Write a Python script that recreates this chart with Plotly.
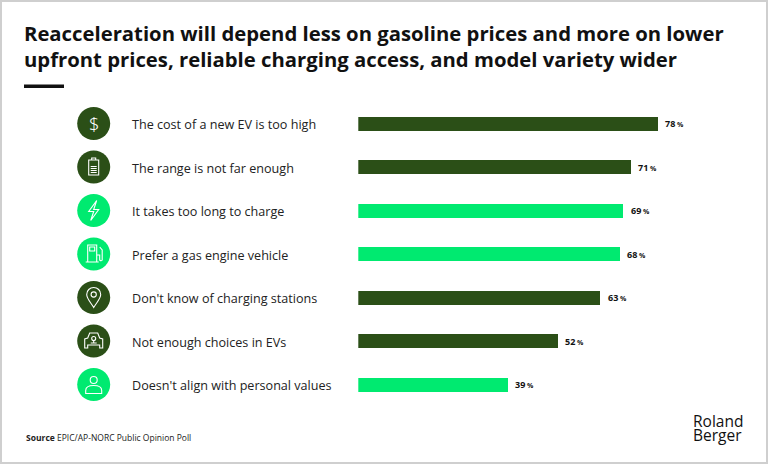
import plotly.graph_objects as go

# ---------------- data ----------------
categories = [
    "The cost of a new EV is too high",
    "The range is not far enough",
    "It takes too long to charge",
    "Prefer a gas engine vehicle",
    "Don't know of charging stations",
    "Not enough choices in EVs",
    "Doesn't align with personal values",
]
values = [78, 71, 69, 68, 63, 52, 39]
groups = ["dark", "dark", "bright", "bright", "dark", "dark", "bright"]
icons = ["dollar", "battery", "bolt", "fuel", "pin", "car", "person"]

title_text = ("Reacceleration will depend less on gasoline prices and more on lower<br>"
              "upfront prices, reliable charging access, and model variety wider")
source_label = "Source"
source_text = "EPIC/AP-NORC Public Opinion Poll"
logo_lines = ["Roland", "Berger"]

# ---------------- style ----------------
W, H = 768, 464
DARK = "#2b4f17"
BRIGHT = "#00ea70"
COLORS = {"dark": DARK, "bright": BRIGHT}
FONT = "Open Sans"


def px_x(p):
    return p / W


def px_y(p):
    return 1 - p / H


def circ(cx, cy, r):
    k = 0.5523 * r
    return (f"M {cx - r},{cy} C {cx - r},{cy + k} {cx - k},{cy + r} {cx},{cy + r} "
            f"C {cx + k},{cy + r} {cx + r},{cy + k} {cx + r},{cy} "
            f"C {cx + r},{cy - k} {cx + k},{cy - r} {cx},{cy - r} "
            f"C {cx - k},{cy - r} {cx - r},{cy - k} {cx - r},{cy} Z")


ICON_PATHS = {
    "battery": ("M -5,-8 L 5,-8 L 5,7 L -5,7 Z M -2,7 L -2,9 L 2,9 L 2,7 "
                "M -3,-5.5 L 3,-5.5 M -3,-3.5 L 3,-3.5 M -3,-1.5 L 3,-1.5 M -3,0.5 L 3,0.5"),
    "bolt": "M 3,10 L -5,-1 L 0,-1 L -3,-10 L 5,1 L 0,1 Z",
    "fuel": ("M -6,-8 L 3,-8 L 3,9 L -6,9 Z M -4,3 L 1,3 L 1,7 L -4,7 Z M -8,-8 L 5,-8 "
             "M 3,-1 L 6,-1 L 6,-6 Q 7.5,-7.5 8.5,-6 L 8.5,4 L 6,7"),
    "pin": ("M 0,-10 C -3,-5 -7,-1 -7,3 C -7,7 -3.9,10 0,10 C 3.9,10 7,7 7,3 C 7,-1 3,-5 0,-10 Z "
            + circ(0, 3, 2.6)),
    "car": ("M -9,-7 L -9,2 L -6,3 L -4,8 L 4,8 L 6,3 L 9,2 L 9,-7 L 6,-7 L 6,-4 L -6,-4 L -6,-7 Z "
            + circ(0, 2.5, 2) + " M 0,0.5 L 0,-2 M -3,-2 L 3,-2"),
    "person": (circ(0, 4.5, 3.5) +
               " M -8,-9 L -8,-6 C -8,-2 -4,-1 0,-1 C 4,-1 8,-2 8,-6 L 8,-9 Z"),
}

ypos = list(range(len(categories)))
bar_colors = [COLORS[g] for g in groups]

fig = go.Figure()
fig.add_trace(go.Bar(
    x=values, y=ypos, orientation="h",
    marker=dict(color=bar_colors, line=dict(width=0)),
    width=0.32, hoverinfo="skip",
))

annotations = []
shapes = []

ICON_X = px_x(93.7)
for i, (cat, v, g, ic) in enumerate(zip(categories, values, groups, icons)):
    # value labels
    annotations.append(dict(
        x=v, y=i, xref="x", yref="y", xanchor="left", yanchor="middle", xshift=5,
        text=f"<b>{v}<span style='font-size:7px'> %</span></b>",
        showarrow=False, font=dict(family=FONT, size=9, color="#111111"),
    ))
    # category labels
    annotations.append(dict(
        x=px_x(130), y=i, xref="paper", yref="y", xanchor="left", yanchor="middle",
        yshift=-1, text=cat, showarrow=False,
        font=dict(family=FONT, size=12.6, color="#222222"),
    ))
    # icon circle
    shapes.append(dict(
        type="circle", xref="paper", yref="y", xsizemode="pixel", ysizemode="pixel",
        xanchor=ICON_X, yanchor=i, x0=-16.5, x1=16.5, y0=-16.5, y1=16.5,
        fillcolor=COLORS[g], line=dict(width=0), layer="above",
    ))
    if ic == "dollar":
        annotations.append(dict(
            x=ICON_X, y=i, xref="paper", yref="y", xanchor="center", yanchor="middle",
            text="$", showarrow=False,
            font=dict(family="Noto Sans", size=18, color="white", weight=300),
        ))
    else:
        shapes.append(dict(
            type="path", xref="paper", yref="y", xsizemode="pixel", ysizemode="pixel",
            xanchor=ICON_X, yanchor=i, path=ICON_PATHS[ic],
            line=dict(color="white", width=1.1), fillcolor="rgba(0,0,0,0)", layer="above",
        ))

# title
annotations.append(dict(
    x=px_x(22), y=px_y(17), xref="paper", yref="paper", xanchor="left", yanchor="top",
    align="left", text=f"<b>{title_text}</b>", showarrow=False,
    font=dict(family=FONT, size=20.3, color="#111111"),
))
# title underline
shapes.append(dict(type="rect", xref="paper", yref="paper",
                   x0=px_x(24), x1=px_x(64), y0=px_y(88), y1=px_y(84.5),
                   fillcolor="#111111", line=dict(width=0)))
# source
annotations.append(dict(
    x=px_x(24), y=px_y(437), xref="paper", yref="paper", xanchor="left", yanchor="middle",
    text=f"<b>{source_label}</b> {source_text}", showarrow=False,
    font=dict(family=FONT, size=8.5, color="#222222"),
))
# logo (tight leading: line spacing follows the small base size)
logo_html = "<br>".join(f"<span style='font-size:15.5px'>{t}</span>" for t in logo_lines)
annotations.append(dict(
    x=px_x(692), y=px_y(428), xref="paper", yref="paper", xanchor="left", yanchor="middle",
    align="left", text=logo_html, showarrow=False, borderpad=0,
    font=dict(family=FONT, size=10.5, color="#111111", weight=500),
))
# outer border
shapes.append(dict(type="rect", xref="paper", yref="paper",
                   x0=px_x(1), x1=px_x(767), y0=px_y(463), y1=px_y(1),
                   line=dict(color="#cfcfcf", width=2), fillcolor="rgba(0,0,0,0)"))

fig.update_layout(
    width=W, height=H,
    margin=dict(l=0, r=0, t=0, b=0),
    paper_bgcolor="white", plot_bgcolor="white",
    showlegend=False,
    xaxis=dict(domain=[px_x(358.3), px_x(743)], range=[0, 100], visible=False, fixedrange=True),
    yaxis=dict(domain=[px_y(406.25), px_y(101.75)], range=[6.5, -0.5], visible=False, fixedrange=True),
    annotations=annotations,
    shapes=shapes,
    bargap=0,
)

fig.write_html("out.html", config={"displayModeBar": False},
               post_script="document.body.style.margin='0';document.body.style.overflow='hidden';")
